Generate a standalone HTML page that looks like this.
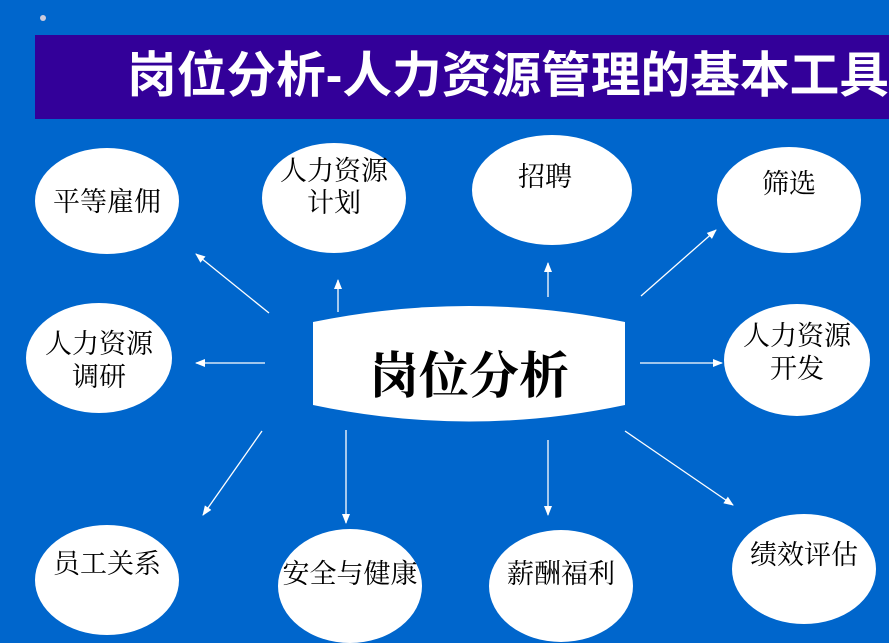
<!DOCTYPE html>
<html><head><meta charset="utf-8"><style>
body{margin:0;width:889px;height:643px;overflow:hidden;background:#0066cc;}
svg{display:block}
</style></head><body>
<svg width="889" height="643" xmlns="http://www.w3.org/2000/svg">
<defs><marker id="a" markerWidth="10" markerHeight="10" refX="9" refY="5" orient="auto" markerUnits="userSpaceOnUse"><path d="M0,1 L10,5 L0,9 Z" fill="#fff"/></marker></defs>
<rect width="889" height="643" fill="#0066cc"/>
<circle cx="43" cy="18" r="3" fill="#ccd"/>
<rect x="35" y="35" width="854" height="84" fill="#330099"/>
<text x="127" y="92" fill="#fff" font-family="Liberation Sans, Noto Sans CJK SC, sans-serif" font-size="49" font-weight="bold" textLength="762" lengthAdjust="spacingAndGlyphs">岗位分析-人力资源管理的基本工具</text>
<path d="M313,322 Q469,290 625,322 L625,405 Q469,438 313,405 Z" fill="#fff"/>
<text x="469" y="393" text-anchor="middle" font-family="Liberation Serif, Noto Serif CJK SC, serif" font-size="50" font-weight="bold">岗位分析</text>
<g stroke="#fff" stroke-width="1.3" marker-end="url(#a)">
<line x1="269" y1="313" x2="196" y2="254"/>
<line x1="338" y1="312" x2="338" y2="280"/>
<line x1="548" y1="297" x2="548" y2="263"/>
<line x1="641" y1="296" x2="716" y2="230"/>
<line x1="265" y1="363" x2="196" y2="363"/>
<line x1="640" y1="363" x2="722" y2="363"/>
<line x1="262" y1="431" x2="203" y2="515"/>
<line x1="346" y1="430" x2="346" y2="523"/>
<line x1="548" y1="440" x2="548" y2="515"/>
<line x1="625" y1="431" x2="733" y2="505"/>
</g>
<g fill="#fff">
<ellipse cx="107" cy="201" rx="72" ry="53"/>
<ellipse cx="334" cy="198" rx="72" ry="55"/>
<ellipse cx="552" cy="190" rx="80" ry="55"/>
<ellipse cx="789" cy="200" rx="72" ry="53"/>
<ellipse cx="99" cy="358" rx="73" ry="55"/>
<ellipse cx="797" cy="360" rx="73" ry="56"/>
<ellipse cx="107" cy="580" rx="72" ry="55"/>
<ellipse cx="350" cy="586" rx="72" ry="57"/>
<ellipse cx="561" cy="586" rx="72" ry="56"/>
<ellipse cx="804" cy="569" rx="72" ry="55"/>
</g>
<g font-family="Liberation Serif, Noto Serif CJK SC, serif" font-size="27" fill="#000" text-anchor="middle">
<text x="107" y="211">平等雇佣</text>
<text x="334" y="180">人力资源</text><text x="334" y="212">计划</text>
<text x="545" y="186">招聘</text>
<text x="789" y="193">筛选</text>
<text x="99" y="353">人力资源</text><text x="99" y="386">调研</text>
<text x="797" y="345">人力资源</text><text x="797" y="378">开发</text>
<text x="107" y="573">员工关系</text>
<text x="350" y="583">安全与健康</text>
<text x="561" y="583">薪酬福利</text>
<text x="804" y="564">绩效评估</text>
</g>
</svg>
</body></html>
